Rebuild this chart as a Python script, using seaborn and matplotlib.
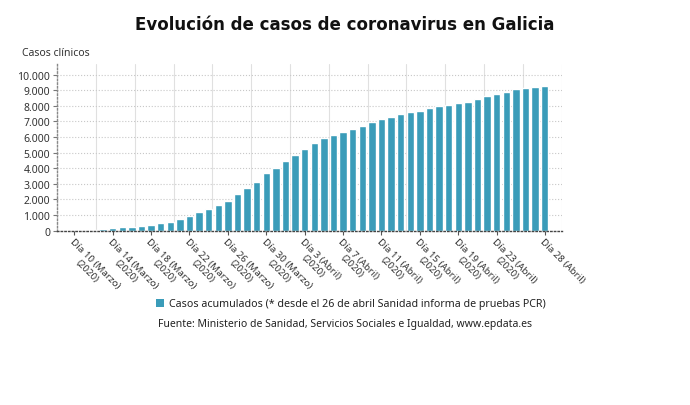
import numpy as np
import pandas as pd
import matplotlib
matplotlib.use('Agg')
import matplotlib.pyplot as plt
import matplotlib.transforms as mtransforms
from matplotlib.patches import Patch
from matplotlib.ticker import FuncFormatter
import seaborn as sns

# Datos: casos acumulados por dia, del 10 de marzo al 28 de abril de 2020
fechas = pd.date_range('2020-03-10', '2020-04-28', freq='D').strftime('%Y-%m-%d').tolist()
casos = [10, 20, 35, 85, 150, 214, 256, 299, 342, 470,
         577, 748, 919, 1218, 1410, 1667, 1923, 2329, 2756, 3141,
         3718, 4038, 4444, 4829, 5214, 5620, 5940, 6140, 6300, 6520,
         6730, 6944, 7158, 7308, 7457, 7585, 7692, 7842, 7970, 8056,
         8162, 8269, 8440, 8611, 8782, 8910, 9081, 9167, 9209, 9295]

# posiciones de las etiquetas del eje x y sus textos
tick_idx = [0, 4, 8, 12, 16, 20, 24, 28, 32, 36, 40, 44, 49]
tick_labels = ['Día 10 (Marzo)\n(2020)', 'Día 14 (Marzo)\n(2020)', 'Día 18 (Marzo)\n(2020)',
               'Día 22 (Marzo)\n(2020)', 'Día 26 (Marzo)\n(2020)', 'Día 30 (Marzo)\n(2020)',
               'Día 3 (Abril)\n(2020)', 'Día 7 (Abril)\n(2020)', 'Día 11 (Abril)\n(2020)',
               'Día 15 (Abril)\n(2020)', 'Día 19 (Abril)\n(2020)', 'Día 23 (Abril)\n(2020)',
               'Día 28 (Abril)']

titulo = 'Evolución de casos de coronavirus en Galicia'
eje_y = 'Casos clínicos'
leyenda = 'Casos acumulados (* desde el 26 de abril Sanidad informa de pruebas PCR)'
fuente = 'Fuente: Ministerio de Sanidad, Servicios Sociales e Igualdad, www.epdata.es'

color_barra = '#3a9cb9'

sns.set_theme(style='white')
plt.rcParams['font.family'] = ['Noto Sans', 'DejaVu Sans']

df = pd.DataFrame({'fecha': fechas, 'casos': casos})

fig = plt.figure(figsize=(6.9, 4.06), dpi=100)
ax = fig.add_axes([0.083, 0.4293, 0.731, 0.411])

sns.barplot(data=df, x='fecha', y='casos', color=color_barra, width=0.78,
            saturation=1, ax=ax)

ax.set_xlim(-1.77, 50.77)
ax.set_ylim(0, 10690)
ax.set_yticks(np.arange(0, 10001, 1000))
ax.yaxis.set_major_formatter(FuncFormatter(lambda v, p: f'{int(v):,}'.replace(',', '.')))
ax.set_xlabel('')
ax.set_ylabel('')

# rejilla
ax.set_xticks(np.linspace(-1.77, 50.77, 14), minor=True)
ax.grid(axis='x', which='minor', color='#e0e0e0', linewidth=0.8)
ax.grid(axis='y', which='major', color='#c8c8c8', linewidth=0.8, linestyle=':')
ax.set_axisbelow(True)

ax.set_xticks(tick_idx)
ax.set_xticklabels(tick_labels, rotation=-45, ha='left', va='top',
                   rotation_mode='anchor', multialignment='center',
                   fontsize=7, color='#333333', linespacing=1.15)
offset = mtransforms.ScaledTranslation(-0.1, 0.03, fig.dpi_scale_trans)
for lbl in ax.get_xticklabels():
    lbl.set_transform(lbl.get_transform() + offset)

ax.tick_params(axis='x', which='major', length=3, width=0.8, color='#555555', pad=1, bottom=True)
ax.tick_params(axis='x', which='minor', length=0)
ax.tick_params(axis='y', length=3, width=0.8, color='#777777', labelsize=7.5,
               labelcolor='#333333', pad=2, left=True)

for s in ['top', 'right']:
    ax.spines[s].set_visible(False)
ax.spines['left'].set_color('#888888')
ax.spines['left'].set_linestyle(':')
ax.spines['left'].set_linewidth(1)
ax.spines['bottom'].set_color('#444444')
ax.spines['bottom'].set_linestyle(':')
ax.spines['bottom'].set_linewidth(1)

fig.text(0.5, 0.938, titulo, ha='center', va='center', fontsize=12,
         fontweight='bold', color='#111111', family=['DejaVu Sans'])
fig.text(0.032, 0.869, eje_y, ha='left', va='center', fontsize=7.5, color='#333333')

fig.legend(handles=[Patch(facecolor=color_barra, edgecolor='none')], labels=[leyenda],
           loc='center', bbox_to_anchor=(0.509, 1 - 305 / 406), frameon=False,
           fontsize=7.7, handlelength=0.7, handleheight=0.7, handletextpad=0.5,
           labelcolor='#222222')
fig.text(0.5, 1 - 324 / 406, fuente, ha='center', va='center', fontsize=7.5,
         color='#222222')

fig.savefig('out.png', dpi=100)
